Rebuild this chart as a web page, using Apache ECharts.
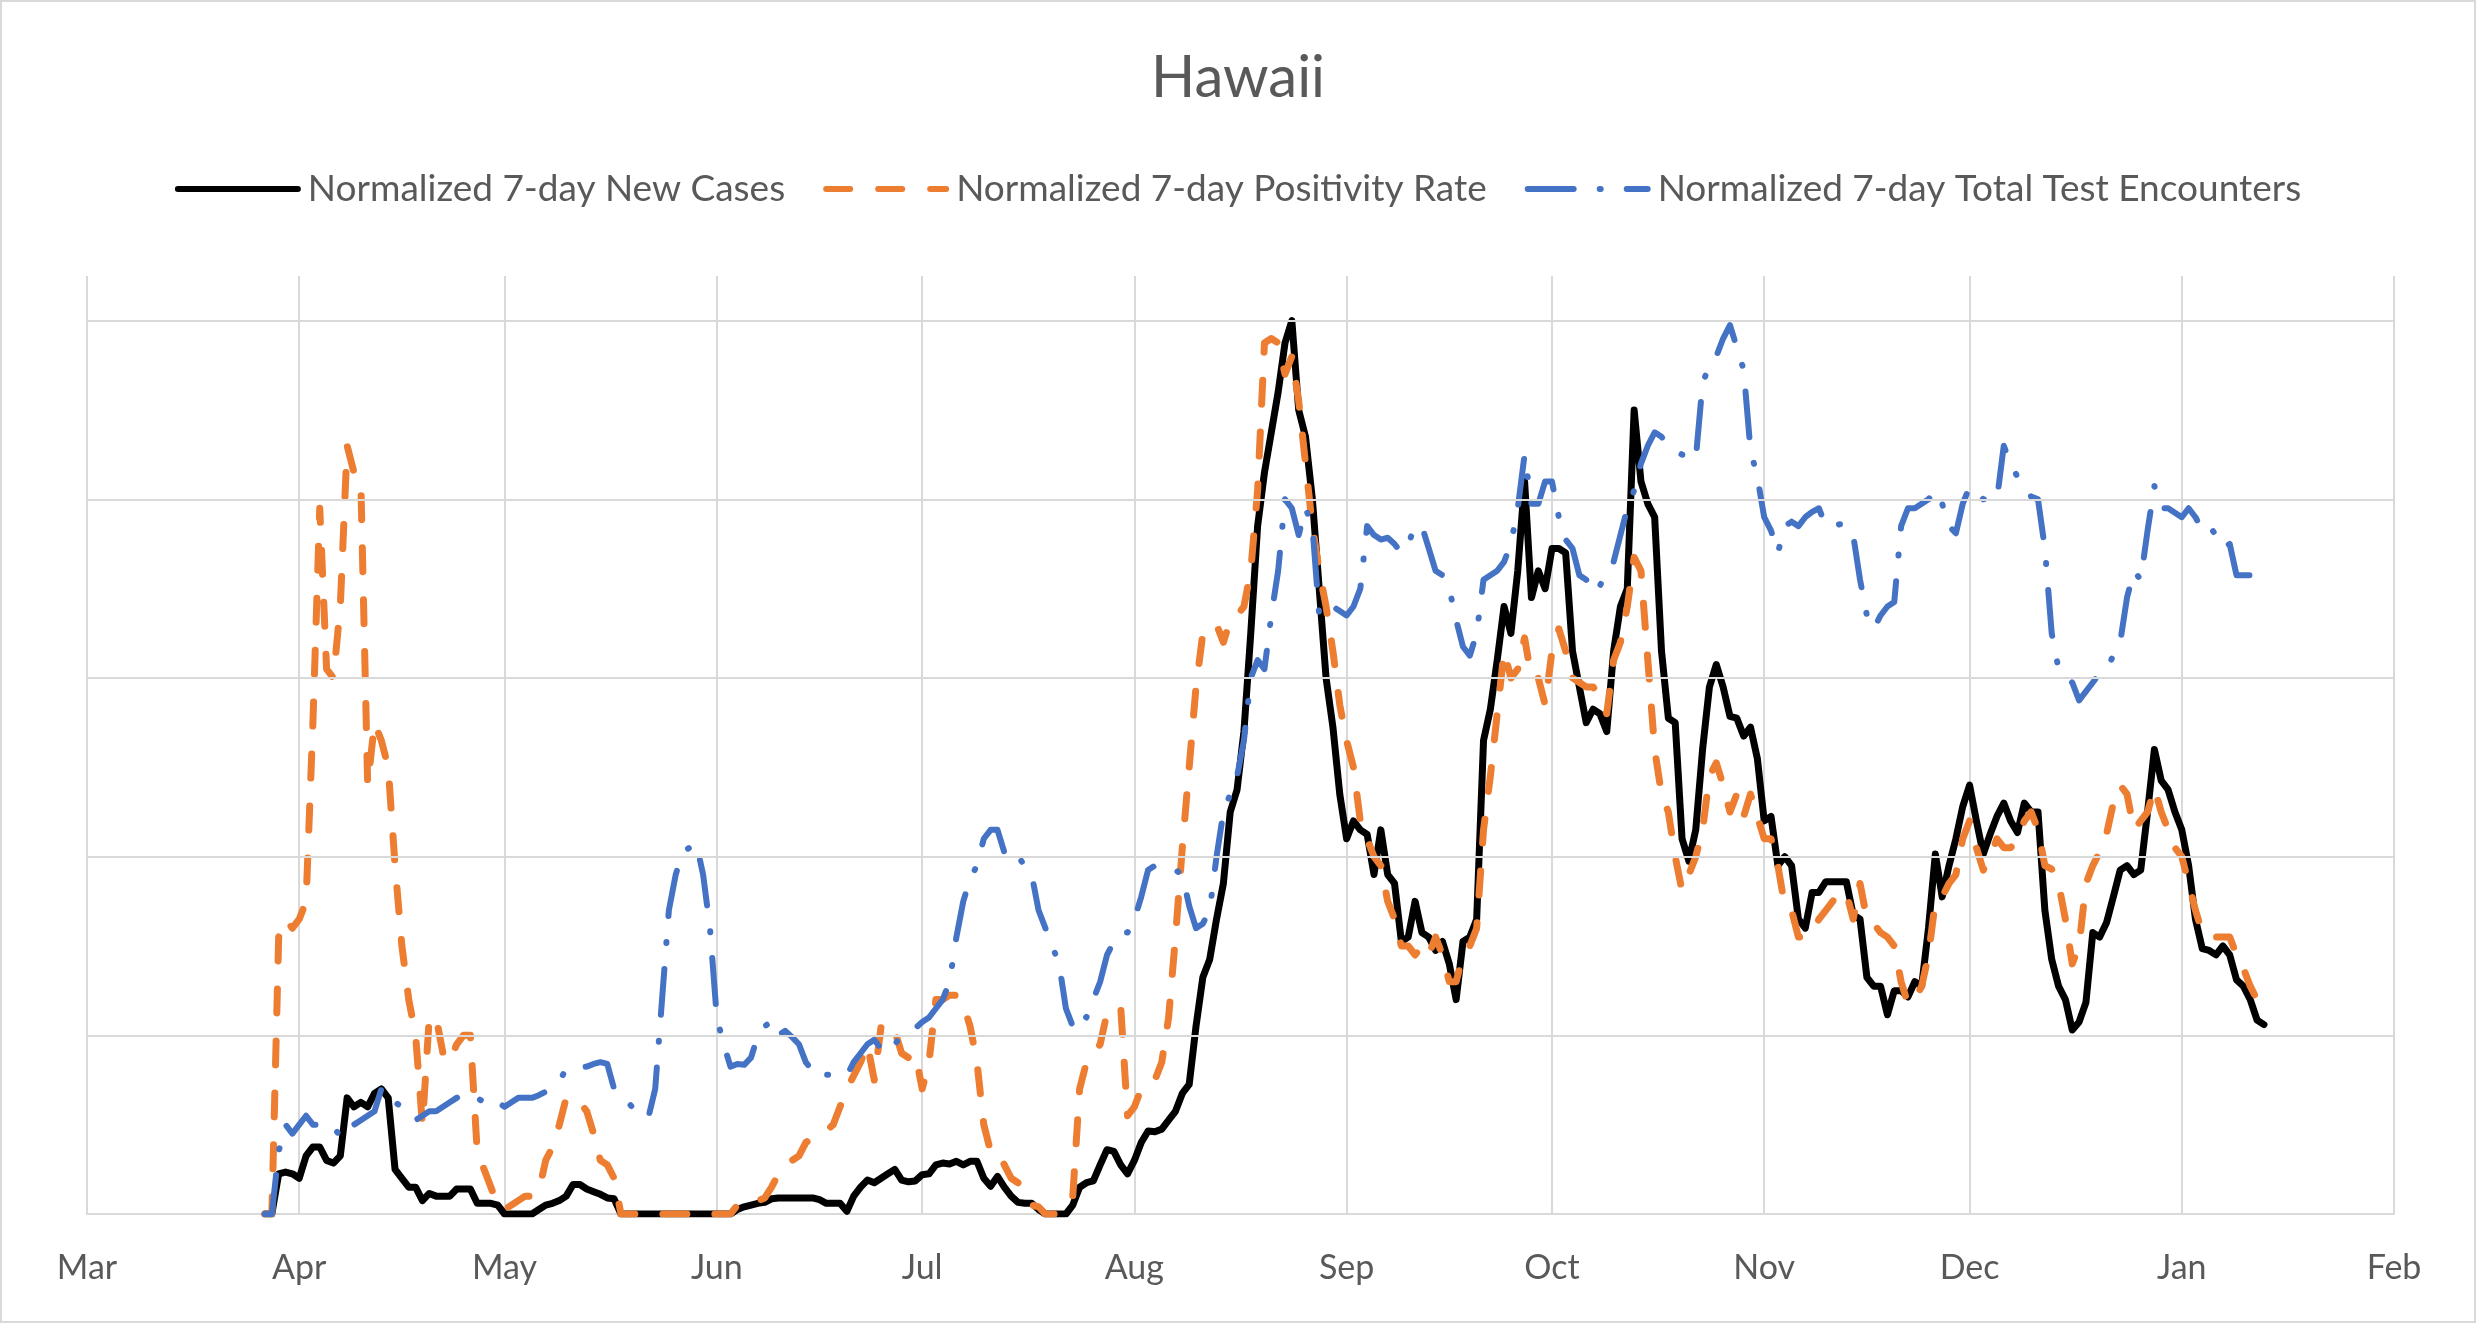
<!DOCTYPE html>
<html>
<head>
<meta charset="utf-8">
<title>Hawaii</title>
<script src="https://cdn.jsdelivr.net/npm/echarts@6/dist/echarts.min.js"></script>
<style>
	html, body { margin: 0; padding: 0; background: #fff; }
	#chart { width: 2476px; height: 1323px; }
</style>
</head>
<body>
<div id="chart"></div>
<script>
// first day of the daily series (Mar 27 2020), one value per day after that
const startDay = [2020, 2, 27];
const axisStart = [2020, 2, 1];
const axisEnd = [2021, 1, 1];
const monthNames = ['Jan', 'Feb', 'Mar', 'Apr', 'May', 'Jun', 'Jul', 'Aug', 'Sep', 'Oct', 'Nov', 'Dec'];
const gridValues = [0.2, 0.4, 0.6, 0.8, 1.0];

const seriesNames = [
	'Normalized 7-day New Cases',
	'Normalized 7-day Positivity Rate',
	'Normalized 7-day Total Test Encounters'
];

const newCases = [
	0, 0, 0.045, 0.047, 0.045, 0.04, 0.065, 0.075, 0.075, 0.06,
	0.057, 0.065, 0.13, 0.12, 0.125, 0.12, 0.135, 0.14, 0.13, 0.05,
	0.04, 0.03, 0.03, 0.015, 0.023, 0.02, 0.02, 0.02, 0.028, 0.028,
	0.028, 0.012, 0.012, 0.012, 0.01, 0, 0, 0, 0, 0,
	0.005, 0.01, 0.012, 0.015, 0.02, 0.033, 0.033, 0.028, 0.025, 0.022,
	0.018, 0.017, 0, 0, 0, 0, 0, 0, 0, 0,
	0, 0, 0, 0, 0, 0, 0, 0, 0, 0.005,
	0.008, 0.01, 0.012, 0.013, 0.017, 0.018, 0.018, 0.018, 0.018, 0.018,
	0.018, 0.016, 0.012, 0.012, 0.012, 0.003, 0.02, 0.03, 0.038, 0.035,
	0.04, 0.045, 0.05, 0.038, 0.036, 0.037, 0.044, 0.045, 0.055, 0.057,
	0.056, 0.059, 0.055, 0.059, 0.059, 0.04, 0.031, 0.042, 0.03, 0.02,
	0.013, 0.012, 0.012, 0.005, 0, 0, 0, 0, 0.01, 0.03,
	0.035, 0.037, 0.055, 0.072, 0.07, 0.055, 0.045, 0.06, 0.08, 0.093,
	0.092, 0.095, 0.105, 0.115, 0.135, 0.145, 0.21, 0.265, 0.285, 0.33,
	0.37, 0.45, 0.475, 0.54, 0.65, 0.77, 0.83, 0.875, 0.92, 0.975,
	1.0, 0.9, 0.87, 0.8, 0.7, 0.6, 0.545, 0.47, 0.42, 0.44,
	0.43, 0.425, 0.38, 0.43, 0.38, 0.37, 0.305, 0.31, 0.35, 0.315,
	0.31, 0.295, 0.305, 0.28, 0.24, 0.305, 0.31, 0.33, 0.53, 0.565,
	0.62, 0.68, 0.65, 0.72, 0.82, 0.69, 0.72, 0.7, 0.745, 0.745,
	0.74, 0.63, 0.59, 0.55, 0.565, 0.56, 0.54, 0.63, 0.68, 0.7,
	0.9, 0.82, 0.795, 0.78, 0.63, 0.555, 0.55, 0.42, 0.395, 0.43,
	0.52, 0.59, 0.615, 0.59, 0.557, 0.555, 0.535, 0.545, 0.51, 0.44,
	0.445, 0.39, 0.4, 0.39, 0.33, 0.32, 0.36, 0.36, 0.372, 0.372,
	0.372, 0.372, 0.335, 0.33, 0.265, 0.255, 0.255, 0.223, 0.25, 0.25,
	0.243, 0.26, 0.255, 0.32, 0.403, 0.355, 0.39, 0.42, 0.456, 0.48,
	0.44, 0.403, 0.425, 0.445, 0.46, 0.44, 0.427, 0.46, 0.45, 0.45,
	0.34, 0.285, 0.255, 0.24, 0.206, 0.215, 0.237, 0.315, 0.31, 0.326,
	0.355, 0.385, 0.39, 0.38, 0.385, 0.45, 0.52, 0.485, 0.475, 0.45,
	0.43, 0.39, 0.33, 0.297, 0.295, 0.29, 0.3, 0.29, 0.262, 0.255,
	0.24, 0.217, 0.212
];

const positivityRate = [
	0, 0, 0.31, 0.33, 0.32, 0.33, 0.35, 0.55, 0.79, 0.61,
	0.6, 0.68, 0.86, 0.83, 0.82, 0.48, 0.55, 0.53, 0.5, 0.39,
	0.3, 0.24, 0.2, 0.1, 0.22, 0.22, 0.18, 0.17, 0.19, 0.2,
	0.2, 0.07, 0.05, 0.03, 0.01, 0.005, 0.01, 0.015, 0.02, 0.02,
	0.025, 0.06, 0.075, 0.1, 0.13, 0.13, 0.125, 0.115, 0.09, 0.06,
	0.055, 0.04, 0, 0, 0, 0, 0, 0, 0, 0,
	0, 0, 0, 0, 0, 0, 0, 0, 0, 0.01,
	0.015, 0.015, 0.015, 0.018, 0.03, 0.045, 0.05, 0.06, 0.065, 0.08,
	0.085, 0.09, 0.093, 0.1, 0.12, 0.14, 0.155, 0.17, 0.19, 0.15,
	0.21, 0.215, 0.205, 0.18, 0.175, 0.18, 0.14, 0.17, 0.24, 0.24,
	0.245, 0.245, 0.235, 0.21, 0.17, 0.1, 0.07, 0.07, 0.055, 0.04,
	0.035, 0.02, 0.01, 0.008, 0, 0, 0, 0.01, 0.02, 0.14,
	0.17, 0.18, 0.19, 0.225, 0.23, 0.232, 0.11, 0.12, 0.14, 0.145,
	0.15, 0.17, 0.22, 0.31, 0.41, 0.5, 0.59, 0.65, 0.655, 0.66,
	0.64, 0.665, 0.67, 0.68, 0.72, 0.81, 0.975, 0.98, 0.975, 0.94,
	0.96, 0.91, 0.84, 0.77, 0.72, 0.68, 0.63, 0.57, 0.53, 0.5,
	0.44, 0.42, 0.4, 0.39, 0.35, 0.33, 0.3, 0.3, 0.29, 0.3,
	0.29, 0.31, 0.29, 0.26, 0.26, 0.29, 0.3, 0.32, 0.43, 0.49,
	0.56, 0.63, 0.6, 0.61, 0.645, 0.6, 0.6, 0.57, 0.63, 0.655,
	0.63, 0.6, 0.595, 0.59, 0.59, 0.58, 0.56, 0.62, 0.64, 0.68,
	0.735, 0.72, 0.62, 0.52, 0.47, 0.45, 0.4, 0.362, 0.38, 0.4,
	0.43, 0.49, 0.505, 0.48, 0.45, 0.47, 0.445, 0.47, 0.445, 0.42,
	0.42, 0.39, 0.345, 0.34, 0.31, 0.31, 0.315, 0.33, 0.34, 0.35,
	0.36, 0.36, 0.33, 0.37, 0.33, 0.325, 0.315, 0.31, 0.3, 0.26,
	0.235, 0.24, 0.255, 0.29, 0.35, 0.355, 0.37, 0.38, 0.42, 0.44,
	0.41, 0.385, 0.4, 0.42, 0.41, 0.41, 0.42, 0.44, 0.45, 0.43,
	0.39, 0.386, 0.37, 0.33, 0.28, 0.3, 0.37, 0.39, 0.405, 0.425,
	0.46, 0.48, 0.47, 0.43, 0.44, 0.45, 0.477, 0.45, 0.43, 0.41,
	0.4, 0.37, 0.34, 0.315, 0.31, 0.31, 0.31, 0.31, 0.29, 0.275,
	0.255, 0.24, 0.23
];

const testEncounters = [
	0, 0, 0.07, 0.1, 0.09, 0.1, 0.11, 0.1, 0.1, 0.1,
	0.1, 0.085, 0.095, 0.1, 0.105, 0.11, 0.115, 0.14, 0.14, 0.125,
	0.12, 0.11, 0.105, 0.11, 0.115, 0.115, 0.12, 0.125, 0.13, 0.135,
	0.135, 0.13, 0.125, 0.12, 0.125, 0.12, 0.125, 0.13, 0.13, 0.13,
	0.133, 0.137, 0.143, 0.148, 0.163, 0.164, 0.164, 0.165, 0.168, 0.17,
	0.168, 0.14, 0.13, 0.125, 0.117, 0.11, 0.108, 0.14, 0.24, 0.34,
	0.38, 0.405, 0.41, 0.415, 0.38, 0.32, 0.22, 0.19, 0.165, 0.168,
	0.167, 0.175, 0.2, 0.21, 0.216, 0.2, 0.205, 0.198, 0.19, 0.17,
	0.16, 0.152, 0.156, 0.156, 0.155, 0.155, 0.17, 0.18, 0.19, 0.195,
	0.185, 0.18, 0.19, 0.2, 0.205, 0.208, 0.215, 0.22, 0.23, 0.24,
	0.26, 0.31, 0.35, 0.375, 0.39, 0.42, 0.43, 0.43, 0.405, 0.395,
	0.4, 0.39, 0.38, 0.34, 0.32, 0.3, 0.28, 0.23, 0.21, 0.225,
	0.22, 0.24, 0.26, 0.29, 0.305, 0.315, 0.315, 0.33, 0.355, 0.385,
	0.39, 0.39, 0.39, 0.385, 0.38, 0.345, 0.32, 0.325, 0.34, 0.4,
	0.45, 0.47, 0.49, 0.53, 0.6, 0.62, 0.61, 0.67, 0.72, 0.8,
	0.79, 0.76, 0.79, 0.77, 0.67, 0.68, 0.68, 0.675, 0.67, 0.68,
	0.7, 0.77, 0.76, 0.755, 0.757, 0.75, 0.74, 0.75, 0.77, 0.77,
	0.745, 0.72, 0.715, 0.7, 0.665, 0.635, 0.625, 0.65, 0.71, 0.715,
	0.72, 0.73, 0.75, 0.79, 0.85, 0.795, 0.795, 0.82, 0.82, 0.78,
	0.755, 0.745, 0.715, 0.71, 0.695, 0.703, 0.72, 0.73, 0.76, 0.79,
	0.81, 0.84, 0.86, 0.875, 0.87, 0.86, 0.855, 0.85, 0.85, 0.845,
	0.93, 0.95, 0.96, 0.98, 0.995, 0.97, 0.945, 0.855, 0.825, 0.78,
	0.765, 0.74, 0.77, 0.775, 0.77, 0.78, 0.786, 0.79, 0.77, 0.77,
	0.772, 0.772, 0.76, 0.71, 0.67, 0.655, 0.67, 0.68, 0.685, 0.77,
	0.79, 0.79, 0.795, 0.8, 0.81, 0.795, 0.77, 0.762, 0.795, 0.814,
	0.808, 0.8, 0.8, 0.8, 0.86, 0.84, 0.825, 0.815, 0.803, 0.8,
	0.745, 0.65, 0.61, 0.6, 0.595, 0.575, 0.585, 0.595, 0.605, 0.61,
	0.625, 0.64, 0.69, 0.72, 0.71, 0.765, 0.815, 0.79, 0.79, 0.785,
	0.78, 0.79, 0.78, 0.765, 0.77, 0.76, 0.745, 0.75, 0.715, 0.715,
	0.715, null, null
];

const textColor = '#595959';
const gridColor = '#d9d9d9';
const fontName = 'Lato';

// day i of the series -> timestamp
const dayTime = function ( i ) {
	return new Date( startDay[0], startDay[1], startDay[2] + i ).getTime();
};
const pairs = function ( values ) {
	return values.map( ( v, i ) => [ dayTime( i ), v ] );
};

const myChart = echarts.init( document.getElementById( 'chart' ), null, { renderer: 'canvas' } );

const option = {
	animation: false,
	backgroundColor: '#fff',
	title: {
		text: 'Hawaii',
		left: 'center',
		top: 41,
		textStyle: {
			fontFamily: fontName,
			fontSize: 58,
			fontWeight: 'normal',
			color: textColor,
			lineHeight: 64
		}
	},
	legend: {
		data: seriesNames,
		left: 'center',
		top: 163,
		itemWidth: 120,
		itemHeight: 14,
		itemGap: 38,
		// hide the marker dot in the legend icons, keep the thick line
		itemStyle: { opacity: 0 },
		lineStyle: { width: 6 },
		textStyle: {
			fontFamily: fontName,
			fontSize: 37,
			color: textColor,
			lineHeight: 42,
			padding: [ 0, 0, 0, 5 ]
		}
	},
	graphic: [ {
		type: 'rect',
		shape: { x: 1, y: 1, width: 2474, height: 1321 },
		style: { fill: 'none', stroke: gridColor, lineWidth: 2 },
		silent: true
	} ],
	grid: {
		left: 87,
		right: 82,
		top: 276,
		bottom: 109
	},
	xAxis: {
		type: 'time',
		min: new Date( axisStart[0], axisStart[1], axisStart[2] ).getTime(),
		max: new Date( axisEnd[0], axisEnd[1], axisEnd[2] ).getTime(),
		splitNumber: 11,
		minInterval: 28 * 86400000,
		maxInterval: 31 * 86400000,
		axisLine: { show: true, lineStyle: { color: gridColor, width: 2 } },
		axisTick: { show: false },
		splitLine: { show: true, lineStyle: { color: gridColor, width: 2 } },
		axisLabel: {
			showMinLabel: true,
			showMaxLabel: true,
			margin: 37,
			fontFamily: fontName,
			fontSize: 34,
			color: textColor,
			formatter: function ( value ) {
				return monthNames[ new Date( value ).getMonth() ];
			}
		}
	},
	yAxis: {
		type: 'value',
		min: 0,
		max: 1.05,
		axisLine: { show: false },
		axisTick: { show: false },
		axisLabel: { show: false },
		splitLine: { show: false }
	},
	series: [
		{
			// horizontal gridlines only (no line at the top of the plot)
			name: 'grid',
			type: 'line',
			data: [],
			z: 1,
			silent: true,
			markLine: {
				silent: true,
				symbol: [ 'none', 'none' ],
				label: { show: false },
				lineStyle: { color: gridColor, width: 2, type: 'solid' },
				data: gridValues.map( v => ( { yAxis: v } ) )
			}
		},
		{
			name: seriesNames[0],
			type: 'line',
			data: pairs( newCases ),
			showSymbol: false,
			symbol: 'none',
			z: 2,
			color: '#000000',
			lineStyle: { color: '#000000', width: 7, cap: 'round', join: 'round' }
		},
		{
			name: seriesNames[1],
			type: 'line',
			data: pairs( positivityRate ),
			showSymbol: false,
			symbol: 'none',
			z: 3,
			color: '#ED7D31',
			lineStyle: { color: '#ED7D31', width: 7, type: [ 24, 28 ], cap: 'round', join: 'round' }
		},
		{
			name: seriesNames[2],
			type: 'line',
			data: pairs( testEncounters ),
			showSymbol: false,
			symbol: 'none',
			z: 4,
			color: '#4472C4',
			lineStyle: { color: '#4472C4', width: 6, type: [ 46, 26, 1, 26 ], cap: 'round', join: 'round' }
		}
	]
};

myChart.setOption( option );
</script>
</body>
</html>
